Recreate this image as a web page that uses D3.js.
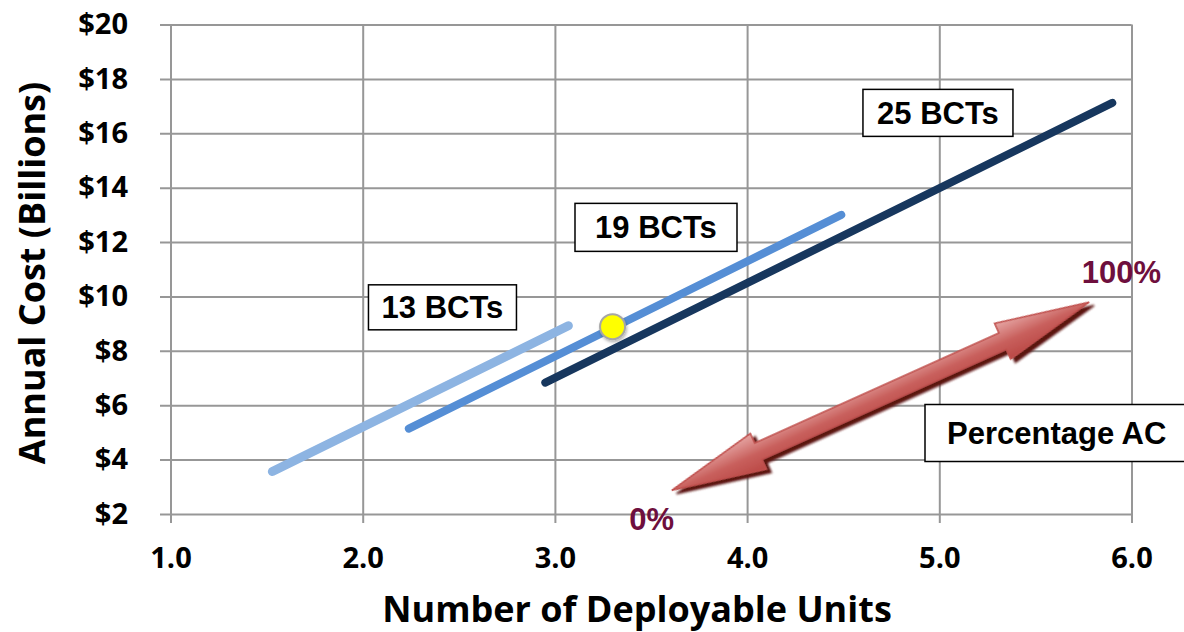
<!DOCTYPE html>
<html>
<head>
<meta charset="utf-8">
<script src="https://cdn.jsdelivr.net/npm/d3@7"></script>
<style>
  html, body { margin: 0; padding: 0; background: #fff; }
  svg { display: block; }
</style>
</head>
<body>
<svg id="chart" width="1184" height="632"></svg>
<script>
// ---- data ----
const xTicks = [1, 2, 3, 4, 5, 6];
const yTicks = [2, 4, 6, 8, 10, 12, 14, 16, 18, 20];
const seriesNames = ["13 BCTs", "19 BCTs", "25 BCTs"];
const units13 = [1.53, 3.07];
const cost13  = [3.56, 8.92];
const units19 = [2.24, 4.49];
const cost19  = [5.14, 13.0];
const units25 = [2.95, 5.90];
const cost25  = [6.83, 17.12];
const markerUnits = [3.30];
const markerCost  = [8.89];
const arrowUnits = [3.608, 5.780];   // 0% end, 100% end
const arrowCost  = [2.87, 9.79];
const arrowLabels = ["0%", "100%"];
const boxLabel = "Percentage AC";

const svg = d3.select("#chart");
svg.append("rect").attr("width", 1184).attr("height", 632).attr("fill", "#fff");

const x = d3.scaleLinear().domain([1, 6]).range([170.5, 1131.5]);
const y = d3.scaleLinear().domain([2, 20]).range([514, 24.5]);

const tickFont = "'Open Sans', 'DejaVu Sans', sans-serif";
const boxFont = "'Liberation Sans', Arial, sans-serif";
const gridColor = "#979797";

// y axis with gridlines
const yAxis = d3.axisLeft(y).tickValues(yTicks).tickFormat(d => "$" + d)
  .tickSize(-(x(6) - 160)).tickPadding(32);
const gy = svg.append("g").attr("transform", "translate(160,0)").call(yAxis);
gy.select(".domain").remove();
gy.selectAll(".tick line").attr("stroke", gridColor).attr("stroke-width", 2);
gy.selectAll(".tick text").attr("font-family", tickFont).attr("font-weight", 700)
  .attr("font-size", 29).attr("fill", "#000");

// x axis with gridlines
const xAxis = d3.axisBottom(x).tickValues(xTicks).tickFormat(d3.format(".1f"))
  .tickSize(-(523 - y(20))).tickPadding(24.5);
const gx = svg.append("g").attr("transform", "translate(0,523)").call(xAxis);
gx.select(".domain").remove();
gx.selectAll(".tick line").attr("stroke", gridColor).attr("stroke-width", 2);
gx.selectAll(".tick text").attr("font-family", tickFont).attr("font-weight", 700)
  .attr("font-size", 29).attr("fill", "#000");

// axis titles
svg.append("text").attr("x", 637).attr("y", 622).attr("text-anchor", "middle")
  .attr("font-family", tickFont).attr("font-weight", 700).attr("font-size", 36)
  .text("Number of Deployable Units");
svg.append("text").attr("transform", "translate(45,273) rotate(-90)").attr("text-anchor", "middle")
  .attr("font-family", tickFont).attr("font-weight", 700).attr("font-size", 36)
  .text("Annual Cost (Billions)");

// defs
const defs = svg.append("defs");
const grad = defs.append("linearGradient").attr("id", "arrowGrad")
  .attr("x1", 0).attr("y1", 0).attr("x2", 0).attr("y2", 1);
grad.append("stop").attr("offset", "0%").attr("stop-color", "#e6a6a4");
grad.append("stop").attr("offset", "55%").attr("stop-color", "#c85f5c");
grad.append("stop").attr("offset", "100%").attr("stop-color", "#bb4946");
const sh = defs.append("filter").attr("id", "arrowShadow")
  .attr("x", "-10%").attr("y", "-50%").attr("width", "130%").attr("height", "200%");
sh.append("feGaussianBlur").attr("in", "SourceAlpha").attr("stdDeviation", 1.2).attr("result", "b");
sh.append("feOffset").attr("in", "b").attr("dx", 3).attr("dy", 5).attr("result", "o");
sh.append("feFlood").attr("flood-color", "#5a1210").attr("flood-opacity", 1).attr("result", "c");
sh.append("feComposite").attr("in", "c").attr("in2", "o").attr("operator", "in").attr("result", "s");
const m = sh.append("feMerge");
m.append("feMergeNode").attr("in", "s");
m.append("feMergeNode").attr("in", "SourceGraphic");
const dotSh = defs.append("filter").attr("id", "dotShadow")
  .attr("x", "-50%").attr("y", "-50%").attr("width", "200%").attr("height", "200%");
dotSh.append("feDropShadow").attr("dx", 1).attr("dy", 2).attr("stdDeviation", 1.5)
  .attr("flood-color", "#000").attr("flood-opacity", 0.3);

// series lines
const seriesData = [
  { name: seriesNames[0], xs: units13, ys: cost13, color: "#8db4e2", width: 9 },
  { name: seriesNames[1], xs: units19, ys: cost19, color: "#558ed5", width: 8 },
  { name: seriesNames[2], xs: units25, ys: cost25, color: "#17375e", width: 8 }
];
const line = d3.line().x(d => x(d[0])).y(d => y(d[1]));
seriesData.forEach(s => {
  svg.append("path").datum(s.xs.map((v, i) => [v, s.ys[i]]))
    .attr("d", line).attr("fill", "none").attr("stroke", s.color)
    .attr("stroke-width", s.width).attr("stroke-linecap", "round");
});

// marker
svg.selectAll("circle.marker").data(markerUnits.map((v, i) => [v, markerCost[i]]))
  .enter().append("circle").attr("class", "marker")
  .attr("cx", d => x(d[0])).attr("cy", d => y(d[1])).attr("r", 12.5)
  .attr("fill", "#ffff00").attr("stroke", "#a6a6a6").attr("stroke-width", 2)
  .attr("filter", "url(#dotShadow)");

// double arrow
const ax0 = x(arrowUnits[0]), ay0 = y(arrowCost[0]);
const ax1 = x(arrowUnits[1]), ay1 = y(arrowCost[1]);
const L = Math.hypot(ax1 - ax0, ay1 - ay0);
const ang = Math.atan2(ay1 - ay0, ax1 - ax0) * 180 / Math.PI;
const hl = 95, hw = 19.5, sw = 9;
const pts = [[0, 0], [hl, -hw], [hl, -sw], [L - hl, -sw], [L - hl, -hw], [L, 0],
             [L - hl, hw], [L - hl, sw], [hl, sw], [hl, hw]];
svg.append("g").attr("transform", `translate(${ax0},${ay0}) rotate(${ang})`)
  .append("polygon").attr("points", pts.map(p => p.join(",")).join(" "))
  .attr("fill", "url(#arrowGrad)").attr("stroke", "#c0504d").attr("stroke-width", 1.5)
  .attr("stroke-linejoin", "miter").attr("filter", "url(#arrowShadow)");

// percentage labels
svg.append("text").attr("x", 674).attr("y", 530).attr("text-anchor", "end")
  .attr("font-family", boxFont).attr("font-weight", 700).attr("font-size", 31)
  .attr("fill", "#6e0f3d").text(arrowLabels[0]);
svg.append("text").attr("x", 1161).attr("y", 283).attr("text-anchor", "end")
  .attr("font-family", boxFont).attr("font-weight", 700).attr("font-size", 31)
  .attr("fill", "#6e0f3d").text(arrowLabels[1]);

// label boxes (center in data coords, size in px)
const boxes = [
  { text: seriesNames[0], cx: 2.415, cy: 9.60, w: 148, h: 45 },
  { text: seriesNames[1], cx: 3.526, cy: 12.54, w: 162, h: 48 },
  { text: seriesNames[2], cx: 4.993, cy: 16.75, w: 150, h: 47 }
];
boxes.forEach(b => {
  const px = x(b.cx), py = y(b.cy);
  svg.append("rect").attr("x", px - b.w / 2).attr("y", py - b.h / 2)
    .attr("width", b.w).attr("height", b.h)
    .attr("fill", "#fff").attr("stroke", "#000").attr("stroke-width", 1.5);
  svg.append("text").attr("x", px).attr("y", py + 11).attr("text-anchor", "middle")
    .attr("font-family", boxFont).attr("font-weight", 700).attr("font-size", 31)
    .attr("fill", "#000").text(b.text);
});

// Percentage AC box
svg.append("rect").attr("x", 925).attr("y", 404.5).attr("width", 270).attr("height", 57)
  .attr("fill", "#fff").attr("stroke", "#000").attr("stroke-width", 1.5);
svg.append("text").attr("x", 947).attr("y", 444).attr("text-anchor", "start")
  .attr("font-family", boxFont).attr("font-weight", 700).attr("font-size", 31)
  .attr("fill", "#000").text(boxLabel);
</script>
</body>
</html>
